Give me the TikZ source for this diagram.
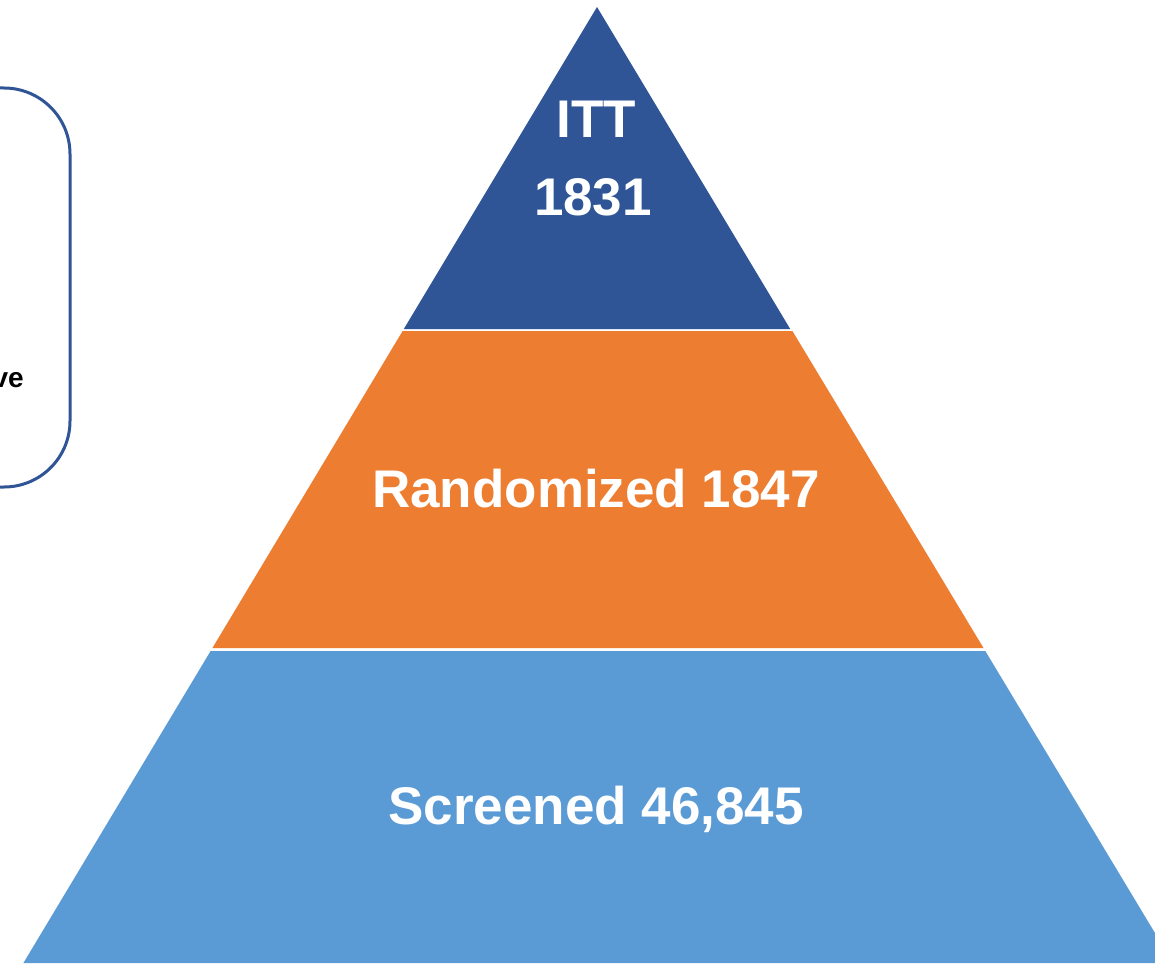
\documentclass[tikz,border=0pt]{standalone}
\usepackage{fontspec}
\setmainfont{Liberation Sans}
\definecolor{tierdark}{HTML}{2F5597}
\definecolor{tierorange}{HTML}{ED7D31}
\definecolor{tierlight}{HTML}{5B9BD5}
\tikzset{
  tierlabel/.style={text=white, font=\fontsize{53}{60}\selectfont\bfseries, inner sep=0pt, anchor=base},
  sidelabel/.style={text=black, font=\fontsize{28}{32}\selectfont\bfseries, inner sep=0pt, anchor=base east},
  sidebox/.style={draw=tierdark, line width=3pt, rounded corners=66pt}
}
\begin{document}
\begin{tikzpicture}[x=1pt, y=-1pt]
  \useasboundingbox (0,0) rectangle (1155,963);
  \clip (0,0) rectangle (1155,963);
  \fill[white] (0,0) rectangle (1155,963);

  % side panel, mostly outside the frame
  \draw[sidebox] (-120,88) rectangle (70,487);
  \node[sidelabel] (sidetext) at (24,387) {ve};

  % pyramid tiers: apex at (597,7), sides slope 0.6 px per px
  \fill[tierdark]   (597,7) -- (790.2,329) -- (403.8,329) -- cycle;
  \fill[tierorange] (402.6,331) -- (792.4,331) -- (983.5,648) -- (212.4,648) -- cycle;
  \fill[tierlight]  (210.6,651) -- (985.3,651) -- (1173,963) -- (23.4,963) -- cycle;

  % tier labels
  \node[tierlabel] (itt)   at (596,137) {ITT};
  \node[tierlabel] (ittn)  at (593,215) {1831};
  \node[tierlabel] (rand)  at (596,507) {Randomized 1847};
  \node[tierlabel] (scr)   at (596,824) {Screened 46,845};
\end{tikzpicture}
\end{document}
